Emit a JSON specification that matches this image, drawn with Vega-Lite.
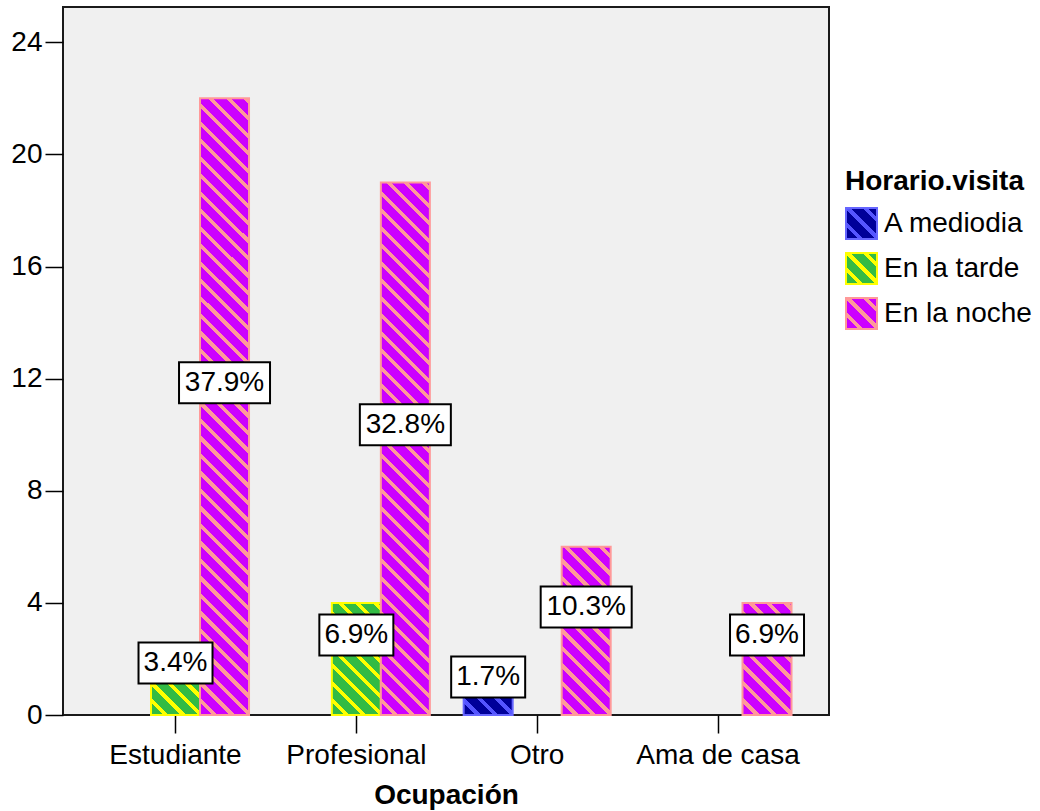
{
  "$schema": "https://vega.github.io/schema/vega-lite/v6.json",
  "width": 766,
  "height": 708,
  "autosize": "none",
  "padding": {"left": 63, "top": 7, "right": 211, "bottom": 96},
  "background": "white",
  "params": [
    {"name": "sM", "value": [
      {"offset":0,"color":"#009"},{"offset":0.014,"color":"#009"},{"offset":0.014,"color":"#55f"},{"offset":0.02,"color":"#55f"},
      {"offset":0.02,"color":"#009"},{"offset":0.034,"color":"#009"},{"offset":0.034,"color":"#55f"},{"offset":0.04,"color":"#55f"},
      {"offset":0.04,"color":"#009"},{"offset":0.054,"color":"#009"},{"offset":0.054,"color":"#55f"},{"offset":0.06,"color":"#55f"},
      {"offset":0.06,"color":"#009"},{"offset":0.074,"color":"#009"},{"offset":0.074,"color":"#55f"},{"offset":0.08,"color":"#55f"},
      {"offset":0.08,"color":"#009"},{"offset":0.094,"color":"#009"},{"offset":0.094,"color":"#55f"},{"offset":0.1,"color":"#55f"}
    ]},
    {"name": "sT", "value": [
      {"offset":0,"color":"#3b4"},{"offset":0.014,"color":"#3b4"},{"offset":0.014,"color":"#ff0"},{"offset":0.02,"color":"#ff0"},
      {"offset":0.02,"color":"#3b4"},{"offset":0.034,"color":"#3b4"},{"offset":0.034,"color":"#ff0"},{"offset":0.04,"color":"#ff0"},
      {"offset":0.04,"color":"#3b4"},{"offset":0.054,"color":"#3b4"},{"offset":0.054,"color":"#ff0"},{"offset":0.06,"color":"#ff0"},
      {"offset":0.06,"color":"#3b4"},{"offset":0.074,"color":"#3b4"},{"offset":0.074,"color":"#ff0"},{"offset":0.08,"color":"#ff0"},
      {"offset":0.08,"color":"#3b4"},{"offset":0.094,"color":"#3b4"},{"offset":0.094,"color":"#ff0"},{"offset":0.1,"color":"#ff0"},
      {"offset":0.1,"color":"#3b4"},{"offset":0.114,"color":"#3b4"},{"offset":0.114,"color":"#ff0"},{"offset":0.12,"color":"#ff0"},
      {"offset":0.12,"color":"#3b4"},{"offset":0.134,"color":"#3b4"},{"offset":0.134,"color":"#ff0"},{"offset":0.14,"color":"#ff0"},
      {"offset":0.14,"color":"#3b4"},{"offset":0.154,"color":"#3b4"},{"offset":0.154,"color":"#ff0"},{"offset":0.16,"color":"#ff0"},
      {"offset":0.16,"color":"#3b4"},{"offset":0.174,"color":"#3b4"},{"offset":0.174,"color":"#ff0"},{"offset":0.18,"color":"#ff0"},
      {"offset":0.18,"color":"#3b4"},{"offset":0.194,"color":"#3b4"},{"offset":0.194,"color":"#ff0"},{"offset":0.2,"color":"#ff0"}
    ]},
    {"name": "sN", "value": [
      {"offset":0,"color":"#c0f"},{"offset":0.014,"color":"#c0f"},{"offset":0.014,"color":"#f99"},{"offset":0.02,"color":"#f99"},
      {"offset":0.02,"color":"#c0f"},{"offset":0.034,"color":"#c0f"},{"offset":0.034,"color":"#f99"},{"offset":0.04,"color":"#f99"},
      {"offset":0.04,"color":"#c0f"},{"offset":0.054,"color":"#c0f"},{"offset":0.054,"color":"#f99"},{"offset":0.06,"color":"#f99"},
      {"offset":0.06,"color":"#c0f"},{"offset":0.074,"color":"#c0f"},{"offset":0.074,"color":"#f99"},{"offset":0.08,"color":"#f99"},
      {"offset":0.08,"color":"#c0f"},{"offset":0.094,"color":"#c0f"},{"offset":0.094,"color":"#f99"},{"offset":0.1,"color":"#f99"},
      {"offset":0.1,"color":"#c0f"},{"offset":0.114,"color":"#c0f"},{"offset":0.114,"color":"#f99"},{"offset":0.12,"color":"#f99"},
      {"offset":0.12,"color":"#c0f"},{"offset":0.134,"color":"#c0f"},{"offset":0.134,"color":"#f99"},{"offset":0.14,"color":"#f99"},
      {"offset":0.14,"color":"#c0f"},{"offset":0.154,"color":"#c0f"},{"offset":0.154,"color":"#f99"},{"offset":0.16,"color":"#f99"},
      {"offset":0.16,"color":"#c0f"},{"offset":0.174,"color":"#c0f"},{"offset":0.174,"color":"#f99"},{"offset":0.18,"color":"#f99"},
      {"offset":0.18,"color":"#c0f"},{"offset":0.194,"color":"#c0f"},{"offset":0.194,"color":"#f99"},{"offset":0.2,"color":"#f99"},
      {"offset":0.2,"color":"#c0f"},{"offset":0.214,"color":"#c0f"},{"offset":0.214,"color":"#f99"},{"offset":0.22,"color":"#f99"},
      {"offset":0.22,"color":"#c0f"},{"offset":0.234,"color":"#c0f"},{"offset":0.234,"color":"#f99"},{"offset":0.24,"color":"#f99"},
      {"offset":0.24,"color":"#c0f"},{"offset":0.254,"color":"#c0f"},{"offset":0.254,"color":"#f99"},{"offset":0.26,"color":"#f99"},
      {"offset":0.26,"color":"#c0f"},{"offset":0.274,"color":"#c0f"},{"offset":0.274,"color":"#f99"},{"offset":0.28,"color":"#f99"},
      {"offset":0.28,"color":"#c0f"},{"offset":0.294,"color":"#c0f"},{"offset":0.294,"color":"#f99"},{"offset":0.3,"color":"#f99"},
      {"offset":0.3,"color":"#c0f"},{"offset":0.314,"color":"#c0f"},{"offset":0.314,"color":"#f99"},{"offset":0.32,"color":"#f99"},
      {"offset":0.32,"color":"#c0f"},{"offset":0.334,"color":"#c0f"},{"offset":0.334,"color":"#f99"},{"offset":0.34,"color":"#f99"},
      {"offset":0.34,"color":"#c0f"},{"offset":0.354,"color":"#c0f"},{"offset":0.354,"color":"#f99"},{"offset":0.36,"color":"#f99"},
      {"offset":0.36,"color":"#c0f"},{"offset":0.374,"color":"#c0f"},{"offset":0.374,"color":"#f99"},{"offset":0.38,"color":"#f99"},
      {"offset":0.38,"color":"#c0f"},{"offset":0.394,"color":"#c0f"},{"offset":0.394,"color":"#f99"},{"offset":0.4,"color":"#f99"},
      {"offset":0.4,"color":"#c0f"},{"offset":0.414,"color":"#c0f"},{"offset":0.414,"color":"#f99"},{"offset":0.42,"color":"#f99"},
      {"offset":0.42,"color":"#c0f"},{"offset":0.434,"color":"#c0f"},{"offset":0.434,"color":"#f99"},{"offset":0.44,"color":"#f99"},
      {"offset":0.44,"color":"#c0f"},{"offset":0.454,"color":"#c0f"},{"offset":0.454,"color":"#f99"},{"offset":0.46,"color":"#f99"},
      {"offset":0.46,"color":"#c0f"},{"offset":0.474,"color":"#c0f"},{"offset":0.474,"color":"#f99"},{"offset":0.48,"color":"#f99"},
      {"offset":0.48,"color":"#c0f"},{"offset":0.494,"color":"#c0f"},{"offset":0.494,"color":"#f99"},{"offset":0.5,"color":"#f99"},
      {"offset":0.5,"color":"#c0f"},{"offset":0.514,"color":"#c0f"},{"offset":0.514,"color":"#f99"},{"offset":0.52,"color":"#f99"},
      {"offset":0.52,"color":"#c0f"},{"offset":0.534,"color":"#c0f"},{"offset":0.534,"color":"#f99"},{"offset":0.54,"color":"#f99"},
      {"offset":0.54,"color":"#c0f"},{"offset":0.554,"color":"#c0f"},{"offset":0.554,"color":"#f99"},{"offset":0.56,"color":"#f99"},
      {"offset":0.56,"color":"#c0f"},{"offset":0.574,"color":"#c0f"},{"offset":0.574,"color":"#f99"},{"offset":0.58,"color":"#f99"},
      {"offset":0.58,"color":"#c0f"},{"offset":0.594,"color":"#c0f"},{"offset":0.594,"color":"#f99"},{"offset":0.6,"color":"#f99"},
      {"offset":0.6,"color":"#c0f"},{"offset":0.614,"color":"#c0f"},{"offset":0.614,"color":"#f99"},{"offset":0.62,"color":"#f99"},
      {"offset":0.62,"color":"#c0f"},{"offset":0.634,"color":"#c0f"},{"offset":0.634,"color":"#f99"},{"offset":0.64,"color":"#f99"},
      {"offset":0.64,"color":"#c0f"},{"offset":0.654,"color":"#c0f"},{"offset":0.654,"color":"#f99"},{"offset":0.66,"color":"#f99"},
      {"offset":0.66,"color":"#c0f"},{"offset":0.674,"color":"#c0f"},{"offset":0.674,"color":"#f99"},{"offset":0.68,"color":"#f99"},
      {"offset":0.68,"color":"#c0f"},{"offset":0.694,"color":"#c0f"},{"offset":0.694,"color":"#f99"},{"offset":0.7,"color":"#f99"},
      {"offset":0.7,"color":"#c0f"},{"offset":0.714,"color":"#c0f"},{"offset":0.714,"color":"#f99"},{"offset":0.72,"color":"#f99"},
      {"offset":0.72,"color":"#c0f"},{"offset":0.734,"color":"#c0f"},{"offset":0.734,"color":"#f99"},{"offset":0.74,"color":"#f99"},
      {"offset":0.74,"color":"#c0f"},{"offset":0.754,"color":"#c0f"},{"offset":0.754,"color":"#f99"},{"offset":0.76,"color":"#f99"},
      {"offset":0.76,"color":"#c0f"},{"offset":0.774,"color":"#c0f"},{"offset":0.774,"color":"#f99"},{"offset":0.78,"color":"#f99"}
    ]}
  ],
  "data": {"values": [
    {"ocupacion": "Estudiante", "horario": "En la tarde", "n": 2, "pct": "3.4%"},
    {"ocupacion": "Estudiante", "horario": "En la noche", "n": 22, "pct": "37.9%"},
    {"ocupacion": "Profesional", "horario": "En la tarde", "n": 4, "pct": "6.9%"},
    {"ocupacion": "Profesional", "horario": "En la noche", "n": 19, "pct": "32.8%"},
    {"ocupacion": "Otro", "horario": "A mediodia", "n": 1, "pct": "1.7%"},
    {"ocupacion": "Otro", "horario": "En la noche", "n": 6, "pct": "10.3%"},
    {"ocupacion": "Ama de casa", "horario": "En la noche", "n": 4, "pct": "6.9%"}
  ]},
  "encoding": {
    "x": {
      "field": "ocupacion", "type": "nominal",
      "sort": ["Estudiante", "Profesional", "Otro", "Ama de casa"],
      "scale": {"paddingInner": 0.187, "paddingOuter": 0.2115, "align": 0.51},
      "axis": {
        "title": "Ocupación", "labelAngle": 0, "domain": false, "grid": false,
        "tickSize": 18, "tickColor": "black", "tickWidth": 1.5,
        "labelFont": "Liberation Sans", "labelFontSize": 28, "labelColor": "black", "labelPadding": 8,
        "titleFont": "Liberation Sans", "titleFontSize": 28, "titleFontWeight": "bold", "titleColor": "black", "titlePadding": 12
      }
    },
    "xOffset": {
      "field": "horario", "type": "nominal",
      "sort": ["A mediodia", "En la tarde", "En la noche"],
      "scale": {"domain": ["A mediodia", "En la tarde", "En la noche"], "paddingInner": 0, "paddingOuter": 0}
    }
  },
  "layer": [
    {
      "mark": {"type": "bar", "strokeWidth": 2},
      "encoding": {
        "y": {
          "field": "n", "type": "quantitative",
          "scale": {"domain": [0, 25.26], "nice": false, "zero": true},
          "axis": {
            "title": null, "values": [0, 4, 8, 12, 16, 20, 24], "domain": false, "grid": false,
            "tickSize": 18, "tickColor": "black", "tickWidth": 1.5,
            "labelFont": "Liberation Sans", "labelFontSize": 28, "labelColor": "black", "labelPadding": 3
          }
        },
        "stroke": {
          "field": "horario", "type": "nominal",
          "scale": {"domain": ["A mediodia", "En la tarde", "En la noche"], "range": ["#66f", "#ff0", "#f99"]},
          "legend": {
            "title": "Horario.visita", "orient": "none", "legendX": 782, "legendY": 161,
            "symbolType": "square", "symbolSize": 961, "symbolStrokeWidth": 2, "symbolOpacity": 1,
            "titleFont": "Liberation Sans", "titleFontSize": 28, "titleFontWeight": "bold", "titleColor": "black", "titlePadding": 11,
            "labelFont": "Liberation Sans", "labelFontSize": 28, "labelColor": "black", "labelOffset": 6,
            "rowPadding": 6
          }
        },
        "fill": {"value": {"expr": "{gradient:'linear',x1:0,y1:1,x2:(datum.n?875*49/(2401+pow(datum.n*28.03,2)):14.113),y2:(datum.n?1-875*datum.n*28.03/(2401+pow(datum.n*28.03,2)):-13.113),stops:((datum.horario||datum.value)==='En la noche'?sN:((datum.horario||datum.value)==='En la tarde'?sT:sM))}"}}
      }
    },
    {
      "transform": [{"calculate": "datum.n / 2", "as": "mid"}],
      "mark": {"type": "point", "filled": true, "fill": "white", "stroke": "black", "strokeWidth": 2, "opacity": 1, "yOffset": -24},
      "encoding": {
        "y": {"field": "mid", "type": "quantitative"},
        "shape": {"condition": {"test": "length(datum.pct) > 4", "value": "M-1,-0.4505H1V0.4505H-1Z"}, "value": "M-1,-0.554H1V0.554H-1Z"},
        "size": {"condition": {"test": "length(datum.pct) > 4", "value": 8281}, "value": 5476}
      }
    },
    {
      "transform": [{"calculate": "datum.n / 2", "as": "mid"}],
      "mark": {"type": "text", "font": "Liberation Sans", "fontSize": 28, "color": "black", "baseline": "middle", "align": "center", "yOffset": -24},
      "encoding": {
        "y": {"field": "mid", "type": "quantitative"},
        "text": {"field": "pct", "type": "nominal"}
      }
    }
  ],
  "config": {
    "view": {"fill": "#f0f0f0", "stroke": "#1a1a1a", "strokeWidth": 2}
  }
}
